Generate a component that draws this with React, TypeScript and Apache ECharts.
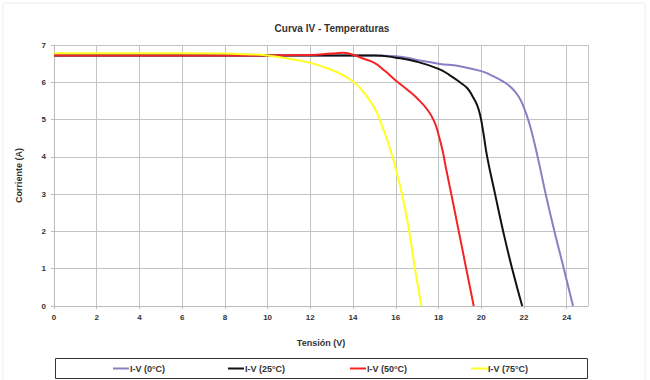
import React, { useEffect, useRef } from "react";
import * as echarts from "echarts";

const seriesNames = ["I-V (0°C)", "I-V (25°C)", "I-V (50°C)", "I-V (75°C)"];
const seriesColors = ["#8a7fc2", "#111111", "#f42424", "#ffff22"];

const v0 = [0, 4, 8, 12, 15, 16, 17, 18, 19, 20, 20.5, 21, 21.4, 21.75, 22.0, 22.25, 22.5, 22.75, 23.02, 23.43, 23.87, 24.3];
const i0 = [6.72, 6.72, 6.72, 6.72, 6.72, 6.7, 6.6, 6.5, 6.43, 6.3, 6.18, 6.03, 5.86, 5.62, 5.32, 4.9, 4.35, 3.72, 3.0, 2.0, 1.0, 0];

const v25 = [0, 4, 8, 12, 15, 16, 17, 18, 18.5, 19, 19.35, 19.6, 19.8, 19.95, 20.1, 20.28, 20.65, 21.03, 21.45, 21.92];
const i25 = [6.72, 6.72, 6.72, 6.72, 6.72, 6.66, 6.55, 6.36, 6.2, 6.0, 5.84, 5.62, 5.4, 5.12, 4.65, 4.0, 3.0, 2.0, 1.0, 0];

const v50 = [0, 4, 8, 12, 13, 13.5, 14, 14.5, 15, 15.5, 16, 16.5, 17, 17.5, 17.8, 18, 18.2, 18.35, 18.6, 18.95, 19.3, 19.65];
const i50 = [6.72, 6.72, 6.72, 6.73, 6.77, 6.79, 6.74, 6.63, 6.52, 6.3, 6.05, 5.82, 5.57, 5.25, 4.95, 4.6, 4.15, 3.7, 3.0, 2.0, 1.0, 0];

const v75 = [0, 4, 8, 9, 10, 11, 12, 13, 13.5, 14, 14.4, 14.8, 15.1, 15.35, 15.6, 15.85, 16.1, 16.35, 16.6, 16.9, 17.2];
const i75 = [6.78, 6.78, 6.77, 6.75, 6.72, 6.63, 6.52, 6.33, 6.2, 6.02, 5.8, 5.5, 5.2, 4.85, 4.45, 4.0, 3.45, 2.85, 2.1, 1.0, 0];

const voltages = [v0, v25, v50, v75];
const currents = [i0, i25, i50, i75];
const legendLefts = [113, 228, 350, 471];

const FONT = "Liberation Sans, Arial, sans-serif";

export default function App() {
  const ref = useRef<HTMLDivElement>(null);
  useEffect(() => {
    if (!ref.current) return;
    const chart = echarts.init(ref.current, undefined, { renderer: "svg" });
    const series = seriesNames.map((name, k) => ({
      name,
      type: "line",
      data: voltages[k].map((v, j) => [v, currents[k][j]]),
      smooth: 0.5,
      showSymbol: false,
      symbol: "none",
      lineStyle: { color: seriesColors[k], width: 2 },
      itemStyle: { color: seriesColors[k] },
      z: 2 + k,
    }));
    chart.setOption({
      animation: false,
      backgroundColor: "#ffffff",
      textStyle: { fontFamily: FONT },
      title: {
        text: "Curva IV - Temperaturas",
        left: 327,
        textAlign: "center",
        top: 18,
        textStyle: { fontSize: 10, fontWeight: "bold", color: "#333", fontFamily: FONT },
      },
      grid: { left: 54, right: 62, top: 45, bottom: 74 },
      xAxis: {
        type: "value",
        min: 0,
        max: 25,
        interval: 2,
        name: "Tensión (V)",
        nameLocation: "middle",
        nameGap: 32,
        nameTextStyle: { fontSize: 9, fontWeight: "bold", color: "#333", fontFamily: FONT },
        axisLine: { show: true, lineStyle: { color: "#bbbbbb" } },
        axisTick: { show: true, length: 3, lineStyle: { color: "#bbbbbb" } },
        axisLabel: { fontSize: 8, fontWeight: "bold", color: "#333", margin: 7, fontFamily: FONT, showMaxLabel: false },
        splitLine: { show: true, lineStyle: { color: "#c4c4c4", width: 1 } },
      },
      yAxis: {
        type: "value",
        min: 0,
        max: 7,
        interval: 1,
        name: "Corriente (A)",
        nameLocation: "middle",
        nameGap: 31,
        nameRotate: 90,
        nameTextStyle: { fontSize: 9, fontWeight: "bold", color: "#333", fontFamily: FONT },
        axisLine: { show: true, lineStyle: { color: "#bbbbbb" } },
        axisTick: { show: true, length: 3, lineStyle: { color: "#bbbbbb" } },
        axisLabel: { fontSize: 8, fontWeight: "bold", color: "#333", margin: 8, fontFamily: FONT },
        splitLine: { show: true, lineStyle: { color: "#c4c4c4", width: 1 } },
      },
      legend: seriesNames.map((name, k) => ({
        data: [name],
        left: legendLefts[k],
        top: 364,
        icon: "rect",
        itemWidth: 16,
        itemHeight: 2,
        itemGap: 0,
        padding: 0,
        textStyle: { fontSize: 9, fontWeight: "bold", color: "#333", fontFamily: FONT, padding: [0, 0, 0, -4] },
      })),
      graphic: [
        {
          type: "rect",
          shape: { x: 3, y: 3, width: 642, height: 380 },
          style: { fill: "none", stroke: "#eeeeee", lineWidth: 1 },
          silent: true,
        },
        {
          type: "rect",
          shape: { x: 55.5, y: 358.5, width: 532, height: 20 },
          style: { fill: "none", stroke: "#333333", lineWidth: 1 },
          silent: true,
        },
        {
          type: "rect",
          shape: { x: 588, y: 45, width: 0.5, height: 261 },
          style: { fill: "#c4c4c4" },
          silent: true,
        },
      ],
      series,
    });
    return () => chart.dispose();
  }, []);
  return <div ref={ref} style={{ width: 650, height: 380, position: "absolute", left: 0, top: 0 }} />;
}
